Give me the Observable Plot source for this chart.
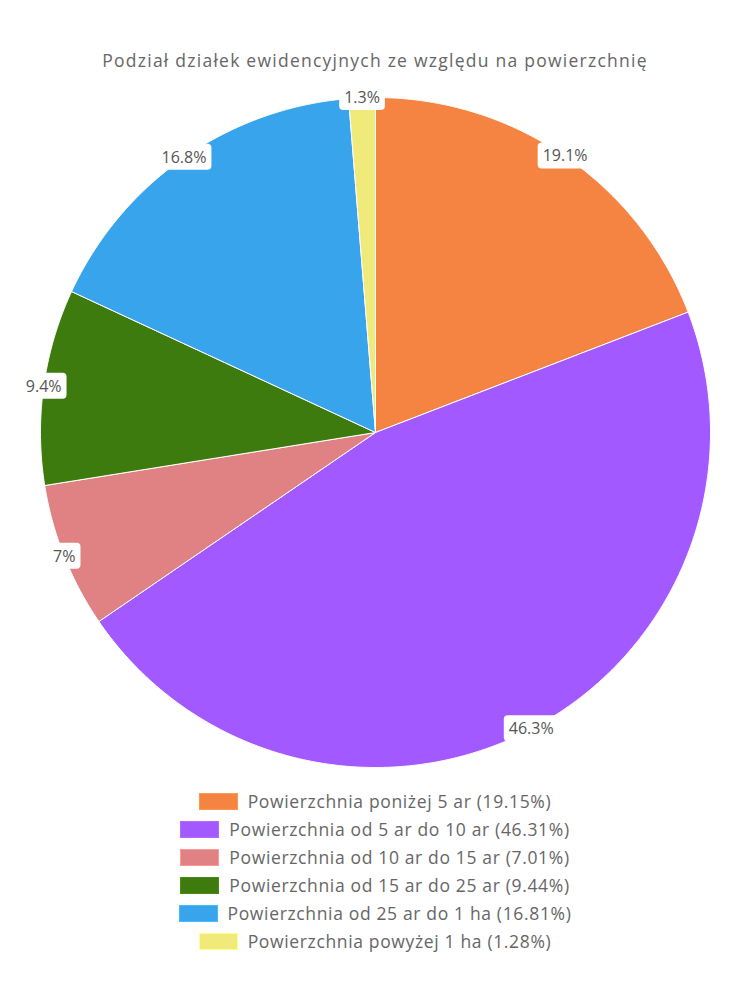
<!DOCTYPE html>
<html><head><meta charset="utf-8">
<script src="https://cdn.jsdelivr.net/npm/d3@7"></script>
<script src="https://cdn.jsdelivr.net/npm/@observablehq/plot@0.6"></script>
<style>
body{margin:0;background:#fff;font-family:"Open Sans",sans-serif;color:#666;}
#title{position:absolute;top:48px;left:0;width:750px;text-align:center;font-size:17.5px;letter-spacing:1.25px;}
#chart{position:absolute;top:82px;left:0;}
#legend{position:absolute;top:787px;left:0;width:750px;}
.row{display:flex;justify-content:center;align-items:center;height:28px;font-size:17.5px;letter-spacing:0.65px;}
.sw{width:39px;height:17px;margin-right:10px;box-sizing:border-box;}
</style></head><body>
<div id="title">Podział działek ewidencyjnych ze względu na powierzchnię</div>
<div id="chart"></div><div id="legend"></div>
<script>
const categories = [
  "Powierzchnia poniżej 5 ar",
  "Powierzchnia od 5 ar do 10 ar",
  "Powierzchnia od 10 ar do 15 ar",
  "Powierzchnia od 15 ar do 25 ar",
  "Powierzchnia od 25 ar do 1 ha",
  "Powierzchnia powyżej 1 ha"
];
const shares = [19.15, 46.31, 7.01, 9.44, 16.81, 1.28];
const colors = ["#F58442", "#A259FF", "#E08283", "#3E7B0E", "#38A4EB", "#F0EA7A"];

const data = categories.map((c, i) => ({cat: c, value: shares[i]}));
const arcs = d3.pie().sort(null).value(d => d.value)(data);

const pts = [];
arcs.forEach(a => {
  const cat = a.data.cat;
  pts.push({cat, x: 0, y: 0});
  const n = Math.max(2, Math.ceil((a.endAngle - a.startAngle) / 0.005));
  for (let i = 0; i <= n; i++) {
    const t = a.startAngle + (a.endAngle - a.startAngle) * i / n;
    pts.push({cat, x: Math.sin(t), y: Math.cos(t)});
  }
  pts.push({cat, x: 0, y: 0});
});
const fmt = v => v.toFixed(1).replace(/\.0$/, "") + "%";
const labels = arcs.map(a => {
  const m = (a.startAngle + a.endAngle) / 2;
  return {cat: a.data.cat, x: Math.sin(m), y: Math.cos(m), text: fmt(a.data.value)};
});

const W = 750, H = 700, R = 335;
const chart = Plot.plot({
  width: W, height: H,
  margin: 0,
  x: {domain: [-W / 2 / R, W / 2 / R], axis: null},
  y: {domain: [-H / 2 / R, H / 2 / R], axis: null},
  color: {domain: categories, range: colors},
  style: {fontFamily: "'Open Sans', sans-serif", background: "white"},
  marks: [
    Plot.line(pts, {x: "x", y: "y", z: "cat", fill: "cat", stroke: "white", strokeWidth: 1, strokeLinejoin: "round"}),
    Plot.text(labels, {x: "x", y: "y", text: "text", fill: "#555", fontSize: 16, className: "lbl"})
  ]
});
document.getElementById("chart").appendChild(chart);

// white rounded boxes behind labels
chart.querySelectorAll("g.lbl text, .lbl text").forEach(t => {
  const b = t.getBBox();
  const r = document.createElementNS("http://www.w3.org/2000/svg", "rect");
  r.setAttribute("x", b.x - 5); r.setAttribute("y", b.y - 2);
  r.setAttribute("width", b.width + 10); r.setAttribute("height", b.height + 4);
  r.setAttribute("rx", 4); r.setAttribute("fill", "white");
  const tr = t.getAttribute("transform");
  if (tr) r.setAttribute("transform", tr);
  t.parentNode.insertBefore(r, t);
});

const legend = document.getElementById("legend");
categories.forEach((c, i) => {
  const row = document.createElement("div"); row.className = "row";
  const sw = document.createElement("span"); sw.className = "sw";
  sw.style.background = colors[i];
  sw.style.border = "1px solid " + d3.color(colors[i]).brighter(0.4);
  const tx = document.createElement("span");
  tx.textContent = `${c} (${shares[i]}%)`;
  row.appendChild(sw); row.appendChild(tx); legend.appendChild(row);
});
</script>
</body></html>
